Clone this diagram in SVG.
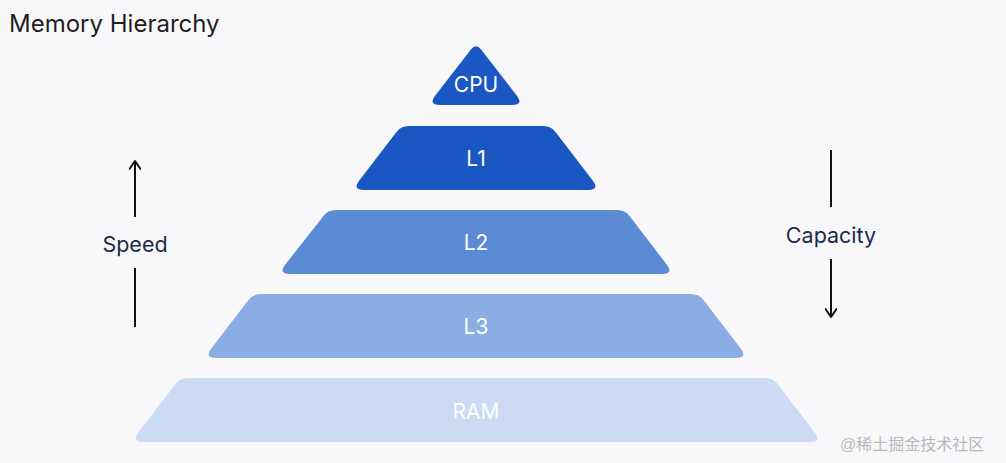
<svg xmlns="http://www.w3.org/2000/svg" width="1006" height="463" viewBox="0 0 1006 463">
  <style>
    .lbl { font-family: Inter, "Noto Sans", "Liberation Sans", sans-serif; font-size: 21px; fill: #ffffff; text-anchor: middle; }
    .side { font-family: Inter, "Noto Sans", "Liberation Sans", sans-serif; font-size: 21.5px; fill: #1c2a4d; text-anchor: middle; }
    .title { font-family: Inter, "Noto Sans", "Liberation Sans", sans-serif; font-size: 24px; fill: #1f1f1f; }
    .wm { font-family: "Liberation Sans", "Noto Sans CJK SC", sans-serif; font-size: 16px; fill: #b8b8bc; }
    .axis { stroke: #111111; stroke-width: 2; fill: none; }
  </style>
  <defs>
    <marker id="chev" viewBox="0 0 12 12" refX="10" refY="6" markerWidth="12" markerHeight="12" markerUnits="userSpaceOnUse" orient="auto">
      <path d="M2,0.5 L10,6 L2,11.5" fill="none" stroke="#111111" stroke-width="2" stroke-linecap="round" stroke-linejoin="round"/>
    </marker>
  </defs>
  <rect width="1006" height="463" fill="#f8f8fa"/>
  <text class="title" x="9" y="32">Memory Hierarchy</text>

  <g id="cpu">
    <path d="M471.1,49.3 Q476,43 480.9,49.3 L516.7,95.5 Q524,105 512,105 H440 Q428,105 435.3,95.5 Z" fill="#1a57c2"/>
    <text class="lbl" x="476" y="91.5">CPU</text>
  </g>
  <g id="l1">
    <path d="M409,126 H543 Q551,126 555.9,132.4 L592.7,180.5 Q600,190 588,190 H364 Q352,190 359.3,180.5 L396.1,132.4 Q401,126 409,126 Z" fill="#1a57c2"/>
    <text class="lbl" x="476" y="165.5">L1</text>
  </g>
  <g id="l2">
    <path d="M336,210 H617 Q625,210 629.9,216.4 L666.7,264.5 Q674,274 662,274 H290 Q278,274 285.3,264.5 L323.1,216.4 Q328,210 336,210 Z" fill="#5c8bd5"/>
    <text class="lbl" x="476" y="249.5">L2</text>
  </g>
  <g id="l3">
    <path d="M261,294 H691 Q699,294 703.9,300.4 L740.7,348.5 Q748,358 736,358 H216 Q204,358 211.3,348.5 L248.1,300.4 Q253,294 261,294 Z" fill="#8aade3"/>
    <text class="lbl" x="476" y="333.5">L3</text>
  </g>
  <g id="ram">
    <path d="M188,378 H765 Q773,378 777.9,384.4 L814.7,432.5 Q822,442 810,442 H143 Q131,442 138.3,432.5 L175.1,384.4 Q180,378 188,378 Z" fill="#ccdaf3"/>
    <text class="lbl" x="476" y="418.5">RAM</text>
  </g>

  <g id="speed">
    <text class="side" x="135" y="251.5">Speed</text>
  </g>
  <g id="capacity">
    <text class="side" x="831" y="242.5">Capacity</text>
  </g>

  <g id="connectors">
    <line class="axis" x1="135" y1="217" x2="135" y2="161" marker-end="url(#chev)"/>
    <line class="axis" x1="135" y1="268" x2="135" y2="327"/>
    <line class="axis" x1="831" y1="150" x2="831" y2="207"/>
    <line class="axis" x1="831" y1="259" x2="831" y2="317" marker-end="url(#chev)"/>
  </g>

  <text class="wm" x="840" y="450">@稀土掘金技术社区</text>
</svg>
